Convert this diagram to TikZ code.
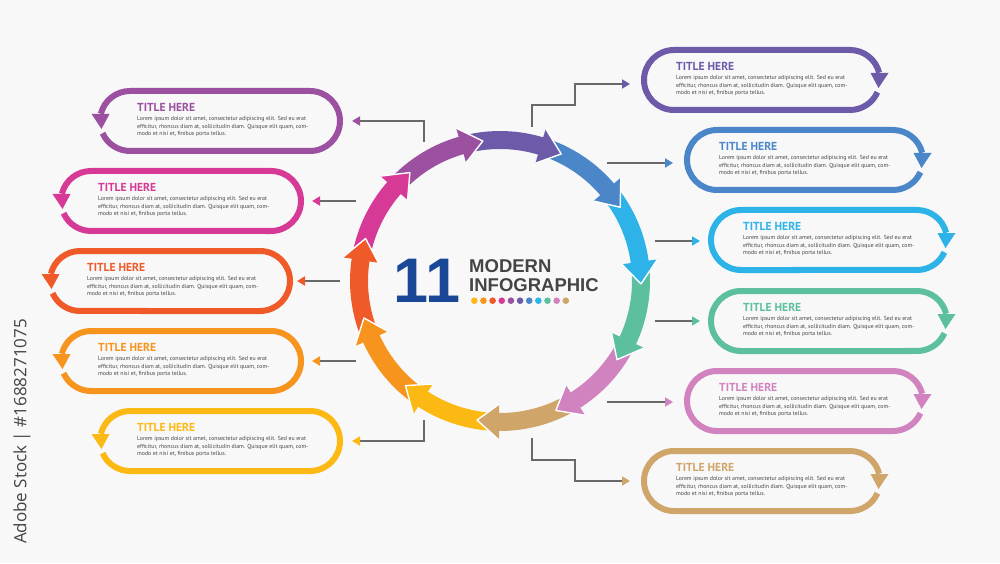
\documentclass[tikz,border=0pt]{standalone}
\usepackage{fontspec}
\setmainfont{PT Sans}
\newfontfamily\headfont{Liberation Sans}
\newfontfamily\markfont{Open Sans}
\usetikzlibrary{arrows.meta}
\definecolor{cPurple}{RGB}{155, 80, 160}
\definecolor{cMagenta}{RGB}{214, 58, 150}
\definecolor{cRed}{RGB}{240, 90, 40}
\definecolor{cOrange}{RGB}{247, 148, 30}
\definecolor{cYellow}{RGB}{253, 185, 19}
\definecolor{cViolet}{RGB}{109, 91, 170}
\definecolor{cBlue}{RGB}{74, 134, 200}
\definecolor{cSky}{RGB}{45, 179, 232}
\definecolor{cGreen}{RGB}{92, 192, 159}
\definecolor{cPink}{RGB}{209, 131, 192}
\definecolor{cTan}{RGB}{207, 165, 106}
\definecolor{cNavy}{RGB}{27, 71, 151}
\definecolor{textgray}{RGB}{68, 68, 68}
\definecolor{linkgray}{RGB}{105, 105, 105}
\definecolor{bggray}{RGB}{248, 248, 249}

\begin{document}
\begin{tikzpicture}[x=1pt, y=1pt,
    boxline/.style={line width=6pt},
    link/.style={draw=linkgray, line width=1.8pt},
    title/.style={font=\bfseries\fontsize{11.6}{13}\selectfont, inner sep=0pt},
    lorem/.style={font=\fontsize{5.85}{7.5}\selectfont, text=textgray, align=left, inner sep=0pt}]
  \fill[bggray] (0,0) rectangle (1000,563);

  % ring of arrows
  \begin{scope}[shift={(500,282)}]
    \foreach \i/\col in {0/cViolet,1/cBlue,2/cSky,3/cGreen,4/cPink,5/cTan,6/cYellow,7/cOrange,8/cRed,9/cMagenta,10/cPurple} {
      \pgfmathsetmacro\a{97-\i*360/11}
      \pgfmathsetmacro\h{\a-360/11+8}
      \pgfmathsetmacro\t{\a+7}
      \fill[\col] (\t:150) arc[start angle=\t, end angle=\h, radius=150] -- (\h:132) arc[start angle=\h, end angle=\t, radius=132] -- cycle;
    }
    \foreach \i/\col in {0/cViolet,1/cBlue,2/cSky,3/cGreen,4/cPink,5/cTan,6/cYellow,7/cOrange,8/cRed,9/cMagenta,10/cPurple} {
      \pgfmathsetmacro\b{97-(\i+1)*360/11}
      \pgfmathsetmacro\h{\b+9}
      \fill[\col] (\h:159) -- (\b:141) -- (\h:123) -- cycle;
      \draw[white, line width=1.4pt, line join=round] (\h:159) -- (\b:141) -- (\h:123);
    }
  \end{scope}

  % centre title
  \node[font=\headfont\bfseries\fontsize{63}{63}\selectfont, text=cNavy, inner sep=0pt] (num) at (427,282.5) {11};
  \node[font=\headfont\bfseries\fontsize{18.5}{19}\selectfont, text=textgray, anchor=base west, inner sep=0pt] (modern) at (469,290.9) {MODERN};
  \node[font=\headfont\bfseries\fontsize{18.5}{19}\selectfont, text=textgray, anchor=base west, inner sep=0pt] (infog) at (469,271.9) {INFOGRAPHIC};
  \foreach \col [count=\k] in {cYellow,cOrange,cRed,cMagenta,cPurple,cViolet,cBlue,cSky,cGreen,cPink,cTan}
    \fill[\col] ({474.3+(\k-1)*9.15},262.3) circle (3.3);

  % left boxes
  \foreach \L/\Y/\col/\n in {100/442/cPurple/1, 61/362/cMagenta/2, 50/282/cRed/3, 61/202/cOrange/4, 100/122/cYellow/5} {
    \draw[boxline, \col] ({\L+2.6},{\Y-12.2}) arc[start angle=204, end angle=270, radius=30]
      -- ({\L+210},{\Y-30}) arc[start angle=-90, end angle=90, radius=30]
      -- ({\L+30},{\Y+30}) arc[start angle=90, end angle=166, radius=30];
    \fill[\col] ({\L-8.5},{\Y+7}) -- ({\L+9.5},{\Y+7}) -- ({\L+1.5},{\Y-8}) -- cycle;
    \node[title, text=\col, anchor=base west] (lt\n) at ({\L+37},{\Y+9.5}) {TITLE HERE};
    \node[lorem, anchor=north west] (ll\n) at ({\L+37},{\Y+4.8}) {Lorem ipsum dolor sit amet, consectetur adipiscing elit. Sed eu erat\\efficitur, rhoncus diam at, sollicitudin diam. Quisque elit quam, com-\\modo et nisi et, finibus porta tellus.};
  }

  % right boxes
  \foreach \L/\Y/\col/\n in {644/483/cViolet/1, 687/403/cBlue/2, 711/323/cSky/3, 711/242/cGreen/4, 687/162/cPink/5, 644/82/cTan/6} {
    \draw[boxline, \col] ({\L+233.4},{\Y-12.2}) arc[start angle=-24, end angle=-90, radius=30]
      -- ({\L+30},{\Y-30}) arc[start angle=270, end angle=90, radius=30]
      -- ({\L+206},{\Y+30}) arc[start angle=90, end angle=14, radius=30];
    \fill[\col] ({\L+226.5},{\Y+7}) -- ({\L+244.5},{\Y+7}) -- ({\L+234.5},{\Y-8}) -- cycle;
    \node[title, text=\col, anchor=base west] (rt\n) at ({\L+32},{\Y+9.5}) {TITLE HERE};
    \node[lorem, anchor=north west] (rl\n) at ({\L+32},{\Y+4.8}) {Lorem ipsum dolor sit amet, consectetur adipiscing elit. Sed eu erat\\efficitur, rhoncus diam at, sollicitudin diam. Quisque elit quam, com-\\modo et nisi et, finibus porta tellus.};
  }

  % connectors
  \coordinate (lin1) at (424,421);  \coordinate (lout1) at (352,442);
  \coordinate (lin2) at (356,362);  \coordinate (lout2) at (312,362);
  \coordinate (lin3) at (340,282);  \coordinate (lout3) at (297,282);
  \coordinate (lin4) at (356,202);  \coordinate (lout4) at (312,202);
  \coordinate (lin5) at (424,143);  \coordinate (lout5) at (352,122);
  \coordinate (rin1) at (532,436);  \coordinate (rmid1) at (575,458); \coordinate (rout1) at (630,479);
  \coordinate (rin2) at (607,400);  \coordinate (rout2) at (673,400);
  \coordinate (rin3) at (655,322);  \coordinate (rout3) at (700,322);
  \coordinate (rin4) at (655,242);  \coordinate (rout4) at (700,242);
  \coordinate (rin5) at (607,161);  \coordinate (rout5) at (673,161);
  \coordinate (rin6) at (532,125);  \coordinate (rmid6) at (575,103); \coordinate (rout6) at (630,82);

  \draw[link, -{Triangle[length=8pt, width=9pt, color=cPurple]}] (lin1) |- (lout1);
  \draw[link, -{Triangle[length=8pt, width=9pt, color=cMagenta]}] (lin2) -- (lout2);
  \draw[link, -{Triangle[length=8pt, width=9pt, color=cRed]}] (lin3) -- (lout3);
  \draw[link, -{Triangle[length=8pt, width=9pt, color=cOrange]}] (lin4) -- (lout4);
  \draw[link, -{Triangle[length=8pt, width=9pt, color=cYellow]}] (lin5) |- (lout5);
  \draw[link, -{Triangle[length=8pt, width=9pt, color=cViolet]}] (rin1) |- (rmid1) |- (rout1);
  \draw[link, -{Triangle[length=8pt, width=9pt, color=cBlue]}] (rin2) -- (rout2);
  \draw[link, -{Triangle[length=8pt, width=9pt, color=cSky]}] (rin3) -- (rout3);
  \draw[link, -{Triangle[length=8pt, width=9pt, color=cGreen]}] (rin4) -- (rout4);
  \draw[link, -{Triangle[length=8pt, width=9pt, color=cPink]}] (rin5) -- (rout5);
  \draw[link, -{Triangle[length=8pt, width=9pt, color=cTan]}] (rin6) |- (rmid6) |- (rout6);

  \node[rotate=90, font=\markfont\fontsize{17}{17}\selectfont, text=textgray] (stock) at (22,131.5) {Adobe Stock | \#1688271075};
\end{tikzpicture}
\end{document}
